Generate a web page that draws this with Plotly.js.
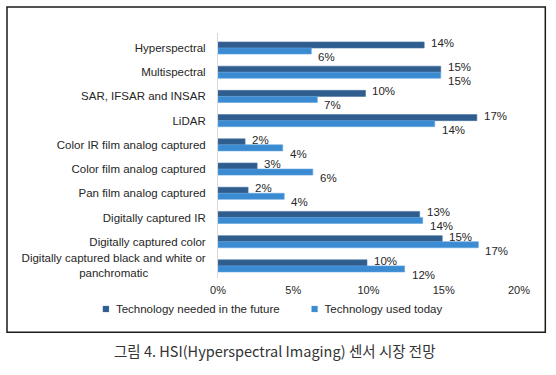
<!DOCTYPE html>
<html>
<head>
<meta charset="utf-8">
<script src="https://cdn.plot.ly/plotly-3.0.1.min.js"></script>
<style>
html,body{margin:0;padding:0;background:#fff;}
#chart{width:556px;height:375px;}
</style>
</head>
<body>
<div id="chart"></div>
<script>
var categories = [
  'Hyperspectral',
  'Multispectral',
  'SAR, IFSAR and INSAR',
  'LiDAR',
  'Color IR film analog captured',
  'Color film analog captured',
  'Pan film analog captured',
  'Digitally captured IR',
  'Digitally captured color',
  'Digitally captured black and white or<br>panchromatic' + '\u00a0'.repeat(18)
];
var futureValues = [13.7, 14.8, 9.8, 17.2, 1.8, 2.6, 2.0, 13.4, 14.9, 9.9];
var todayValues  = [6.2, 14.8, 6.6, 14.4, 4.3, 6.3, 4.4, 13.6, 17.3, 12.4];
var futureName = 'Technology needed in the future';
var todayName = 'Technology used today';
var xTickVals = [0, 5, 10, 15, 20];

var fontFam = '"Liberation Sans", Arial, sans-serif';
var txtColor = '#262626';

var traces = [
  {type:'bar', orientation:'h', name:futureName, y:categories, x:futureValues,
   marker:{color:'#2E5D8E', line:{color:'#4a76a4', width:0.6}}, hoverinfo:'none'},
  {type:'bar', orientation:'h', name:todayName, y:categories, x:todayValues,
   marker:{color:'#3B8BD2', line:{color:'#5fa2dd', width:0.6}}, hoverinfo:'none'}
];

var annotations = [];
function addLabels(vals, yshift){
  for (var i=0;i<vals.length;i++){
    annotations.push({x:vals[i], y:categories[i], xref:'x', yref:'y',
      text: Math.round(vals[i]) + '%', showarrow:false, xanchor:'left', xshift:7,
      yshift:yshift, borderpad:0, borderwidth:0,
      font:{family:fontFam, size:11.5, color:txtColor}});
  }
}
addLabels(futureValues, 5);
addLabels(todayValues, -9);

annotations.push({xref:'paper', yref:'paper', x:0.191, y:-0.2967, xanchor:'center', yanchor:'middle',
  showarrow:false, text:'그림 4. HSI(Hyperspectral Imaging) 센서 시장 전망',
  font:{family:'"Noto Sans CJK KR", "Noto Sans", sans-serif', size:14.5, color:'#333'}});

var layout = {
  width:556, height:375,
  margin:{l:218, r:37, t:33, b:97, pad:0},
  paper_bgcolor:'#fff', plot_bgcolor:'#fff',
  barmode:'group', bargap:0.5, bargroupgap:0,
  showlegend:true,
  legend:{orientation:'h', x:-0.472, xanchor:'left', y:-0.1265, yanchor:'middle',
    font:{family:fontFam, size:11.5, color:txtColor}, traceorder:'normal'},
  xaxis:{range:[0,20], tickvals:xTickVals, ticktext:xTickVals.map(function(v){return v+'%';}),
    showgrid:false, zeroline:false, showline:false, ticks:'',
    tickfont:{family:fontFam, size:11, color:txtColor}, ticklabelstandoff:4, fixedrange:true},
  yaxis:{type:'category', autorange:'reversed', showgrid:false, zeroline:false,
    showline:true, linecolor:'#d9d9d9', linewidth:1, ticks:'',
    tickfont:{family:fontFam, size:11.5, color:txtColor}, ticklabelstandoff:9, fixedrange:true},
  shapes:[{type:'rect', xref:'paper', yref:'paper', x0:-0.701, x1:1.0874, y0:-0.2216, y1:1.106,
    line:{color:'#1a1a1a', width:1.5}, fillcolor:'rgba(0,0,0,0)', layer:'below'}],
  annotations:annotations
};

Plotly.newPlot('chart', traces, layout, {displayModeBar:false, staticPlot:true}).then(function(gd){
  // make the legend swatches small squares, as in the reference
  var pts = gd.querySelectorAll('.legendpoints path');
  pts.forEach(function(p){
    var t = p.getAttribute('transform') || '';
    p.setAttribute('transform', t + ' translate(10,0) scale(0.5)');
  });
});
</script>
</body>
</html>
